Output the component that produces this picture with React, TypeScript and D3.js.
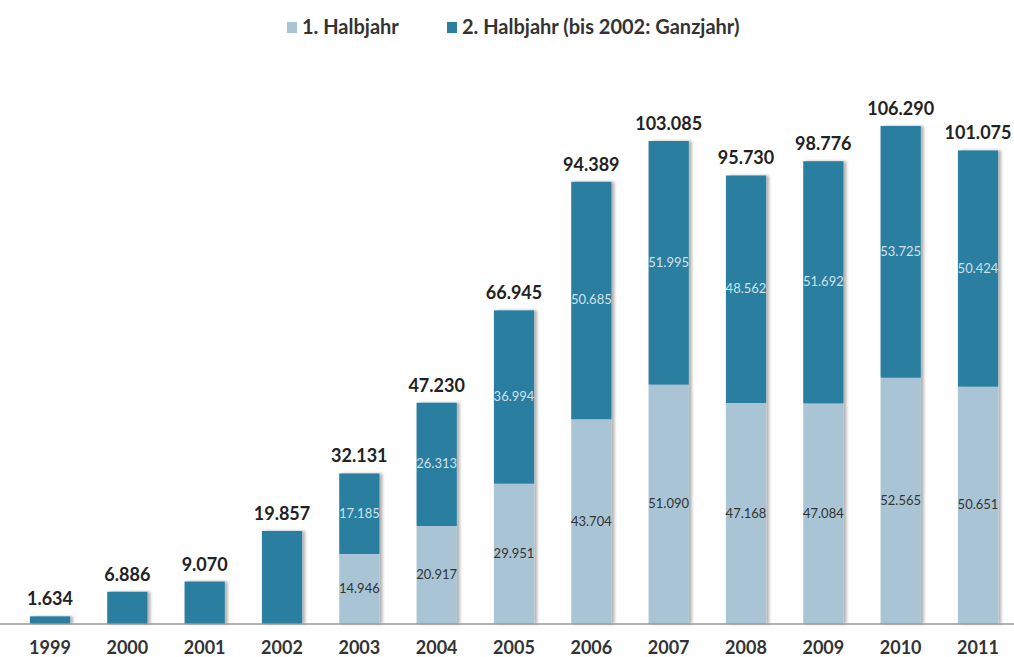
import * as d3 from "d3";
import React from "react";

// Werte aus der Vorlage (Tsd.)
const years = ["1999", "2000", "2001", "2002", "2003", "2004", "2005", "2006", "2007", "2008", "2009", "2010", "2011"];
const firstHalf = [0, 0, 0, 0, 14946, 20917, 29951, 43704, 51090, 47168, 47084, 52565, 50651];
const secondHalf = [1634, 6886, 9070, 19857, 17185, 26313, 36994, 50685, 51995, 48562, 51692, 53725, 50424];
const legendLabels = ["1. Halbjahr", "2. Halbjahr (bis 2002: Ganzjahr)"];

const WIDTH = 1014;
const HEIGHT = 657;
const BASE = 624;
const LIGHT = "#a9c5d5";
const DARK = "#2a7e9f";
const FONT = "Lato, 'Open Sans', sans-serif";

const de = d3.formatLocale({ decimal: ",", thousands: ".", grouping: [3], currency: ["", " €"] });
const fmt = de.format(",d");

export default function App() {
  const totals = years.map((_, i) => firstHalf[i] + secondHalf[i]);
  const step = (978 - 50) / (years.length - 1);

  const x = d3
    .scaleBand<string>()
    .domain(years)
    .range([50 - step / 2, 978 + step / 2])
    .paddingInner(0.48)
    .paddingOuter(0.24);

  const y = d3.scaleLinear().domain([0, 106290]).range([BASE, 126]);
  const bw = x.bandwidth();

  return (
    <svg
      width={WIDTH}
      height={HEIGHT}
      style={{ position: "absolute", left: 0, top: 0, background: "#fff" }}
      fontFamily={FONT}
    >
      <defs>
        <filter id="shadow" x="-20%" y="-5%" width="150%" height="110%">
          <feDropShadow dx={3} dy={0} stdDeviation={1.5} floodColor="#000" floodOpacity={0.3} />
        </filter>
      </defs>

      {/* Legende */}
      <g>
        <rect x={287} y={22} width={10} height={11} fill={LIGHT} />
        <text x={302} y={34} fontSize={20} fontWeight="bold" fill="#333">{legendLabels[0]}</text>
        <rect x={447} y={22} width={10} height={11} fill={DARK} />
        <text x={462} y={34} fontSize={20} fontWeight="bold" fill="#333">{legendLabels[1]}</text>
      </g>

      {/* Balken */}
      {years.map((yr, i) => {
        const x0 = x(yr) ?? 0;
        const cx = x0 + bw / 2;
        const y1 = y(firstHalf[i]);
        const y2 = y(totals[i]);
        return (
          <g key={yr}>
            <g filter="url(#shadow)">
              {firstHalf[i] > 0 && <rect x={x0} y={y1} width={bw} height={BASE - y1} fill={LIGHT} />}
              <rect x={x0} y={y2} width={bw} height={y1 - y2} fill={DARK} />
            </g>
            {firstHalf[i] > 0 && (
              <>
                <text x={cx} y={(y1 + BASE) / 2 + 4} textAnchor="middle" fontSize={13} fill="#333">
                  {fmt(firstHalf[i])}
                </text>
                <text x={cx} y={(y1 + y2) / 2 + 4} textAnchor="middle" fontSize={13} fill="#cfe2ec">
                  {fmt(secondHalf[i])}
                </text>
              </>
            )}
            <text x={cx} y={y2 - 11} textAnchor="middle" fontSize={18} fontWeight="bold" fill="#222">
              {fmt(totals[i])}
            </text>
            <text x={cx} y={654} textAnchor="middle" fontSize={18} fontWeight="bold" fill="#333">
              {yr}
            </text>
          </g>
        );
      })}

      {/* Achse */}
      <line x1={0} x2={WIDTH} y1={BASE} y2={BASE} stroke="#999" strokeWidth={1.5} />
    </svg>
  );
}
